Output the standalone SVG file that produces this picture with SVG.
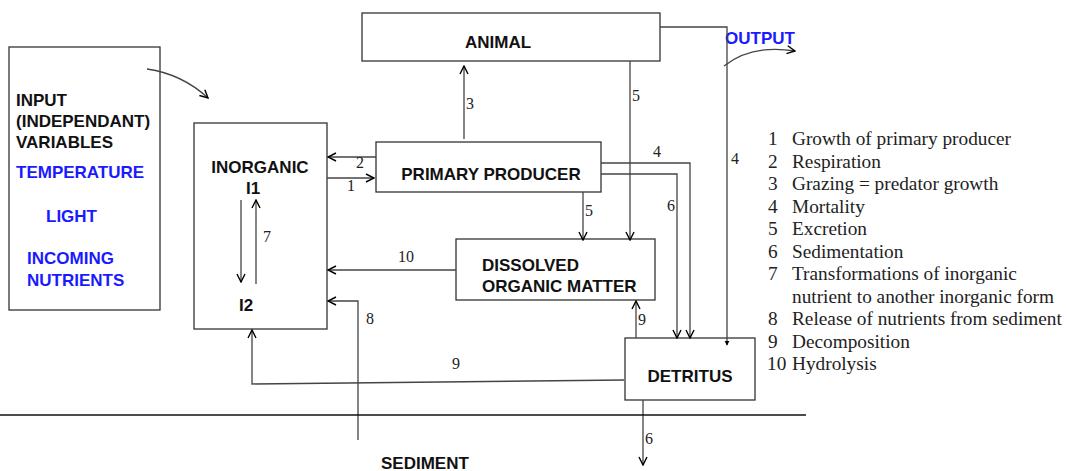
<svg xmlns="http://www.w3.org/2000/svg" width="1067" height="471" viewBox="0 0 1067 471">
<defs>
<marker id="ah" viewBox="0 0 10 10" refX="9" refY="5" markerWidth="10" markerHeight="10" markerUnits="userSpaceOnUse" orient="auto">
<path d="M1,1 L9,5 L1,9" fill="none" stroke="#000" stroke-width="1.4"/>
</marker>
<marker id="dot" viewBox="0 0 6 10" refX="5" refY="5" markerWidth="5" markerHeight="8" markerUnits="userSpaceOnUse" orient="auto">
<path d="M0,2 L6,5 L0,8 Z" fill="#000"/>
</marker>
</defs>
<style>
.box{fill:#fff;stroke:#333;stroke-width:1.3}
.ln{fill:none;stroke:#444;stroke-width:1.3}
.b{font-family:"Liberation Sans",Arial,sans-serif;font-weight:bold;font-size:17px;fill:#111}
.blue{fill:#1a1aff}
.n{font-family:"Liberation Serif","Times New Roman",serif;font-size:16px;fill:#222}
.lg{font-family:"Liberation Serif","Times New Roman",serif;font-size:19.3px;fill:#222}
</style>
<rect width="1067" height="471" fill="#fff"/>

<g id="input">
<rect class="box" x="9" y="47" width="151" height="263"/>
<text class="b" x="16" y="106">INPUT</text>
<text class="b" x="16" y="127">(INDEPENDANT)</text>
<text class="b" x="16" y="148">VARIABLES</text>
<text class="b blue" x="16" y="178">TEMPERATURE</text>
<text class="b blue" x="46" y="222">LIGHT</text>
<text class="b blue" x="27" y="264">INCOMING</text>
<text class="b blue" x="27" y="286">NUTRIENTS</text>
</g>

<g id="inorganic">
<rect class="box" x="194" y="123" width="133" height="206"/>
<text class="b" x="260" y="173" text-anchor="middle">INORGANIC</text>
<text class="b" x="253" y="194" text-anchor="middle">I1</text>
<text class="b" x="246" y="311" text-anchor="middle">I2</text>
</g>

<g id="animal">
<rect class="box" x="362" y="13" width="298" height="48"/>
<text class="b" x="498" y="48" text-anchor="middle">ANIMAL</text>
</g>

<g id="primary">
<rect class="box" x="376" y="142" width="225" height="50"/>
<text class="b" x="491" y="180" text-anchor="middle">PRIMARY PRODUCER</text>
</g>

<g id="dom">
<rect class="box" x="456" y="239" width="199" height="61"/>
<text class="b" x="482" y="271">DISSOLVED</text>
<text class="b" x="482" y="292">ORGANIC MATTER</text>
</g>

<g id="detritus">
<rect class="box" x="625" y="338" width="130" height="62"/>
<text class="b" x="690" y="382" text-anchor="middle">DETRITUS</text>
</g>

<g id="labels">
<text class="b blue" x="725" y="44">OUTPUT</text>
<text class="b" x="381" y="469">SEDIMENT</text>
</g>

<g id="connectors">
<path class="ln" d="M147,69 Q182,74 208,98" stroke="#000" marker-end="url(#ah)"/>
<path class="ln" d="M724,66 Q752,44 795,51" stroke="#000" marker-end="url(#ah)"/>
<path class="ln" d="M241,200 V282" marker-end="url(#ah)"/>
<path class="ln" d="M256,284 V200" marker-end="url(#ah)"/>
<path class="ln" d="M464,139 V66" marker-end="url(#ah)"/>
<path class="ln" d="M376,157 H328" marker-end="url(#ah)"/>
<path class="ln" d="M327,178 H374" marker-end="url(#ah)"/>
<path class="ln" d="M630,61 V240" marker-end="url(#ah)"/>
<path class="ln" d="M583,192 V240" marker-end="url(#ah)"/>
<path class="ln" d="M601,163 H690 V338" marker-end="url(#ah)"/>
<path class="ln" d="M601,174 H677 V338" marker-end="url(#ah)"/>
<path class="ln" d="M660,27 H727 V345" marker-end="url(#dot)"/>
<path class="ln" d="M456,270 H328" marker-end="url(#ah)"/>
<path class="ln" d="M358,440 V301 H328" marker-end="url(#ah)"/>
<path class="ln" d="M636,338 V301" marker-end="url(#ah)"/>
<path class="ln" d="M624,380 L252,384 V330" marker-end="url(#ah)"/>
<path class="ln" d="M643,400 V465" marker-end="url(#ah)"/>
<line x1="0" y1="415" x2="806" y2="415" stroke="#111" stroke-width="1.3"/>
<text class="n" x="263" y="242">7</text>
<text class="n" x="466" y="109">3</text>
<text class="n" x="356" y="168">2</text>
<text class="n" x="347" y="191">1</text>
<text class="n" x="632" y="101">5</text>
<text class="n" x="585" y="216">5</text>
<text class="n" x="653" y="157">4</text>
<text class="n" x="667" y="211">6</text>
<text class="n" x="731" y="164">4</text>
<text class="n" x="398" y="262">10</text>
<text class="n" x="366" y="324">8</text>
<text class="n" x="638" y="325">9</text>
<text class="n" x="452" y="369">9</text>
<text class="n" x="645" y="444">6</text>
</g>

<g id="legend">
<text class="lg" x="768" y="145">1</text><text class="lg" x="792" y="145">Growth of primary producer</text>
<text class="lg" x="768" y="168">2</text><text class="lg" x="792" y="168">Respiration</text>
<text class="lg" x="768" y="190">3</text><text class="lg" x="792" y="190">Grazing = predator growth</text>
<text class="lg" x="768" y="213">4</text><text class="lg" x="792" y="213">Mortality</text>
<text class="lg" x="768" y="235">5</text><text class="lg" x="792" y="235">Excretion</text>
<text class="lg" x="768" y="258">6</text><text class="lg" x="792" y="258">Sedimentation</text>
<text class="lg" x="768" y="280">7</text><text class="lg" x="792" y="280">Transformations of inorganic</text>
<text class="lg" x="792" y="303">nutrient to another inorganic form</text>
<text class="lg" x="768" y="325">8</text><text class="lg" x="792" y="325">Release of nutrients from sediment</text>
<text class="lg" x="768" y="348">9</text><text class="lg" x="792" y="348">Decomposition</text>
<text class="lg" x="767" y="370">10</text><text class="lg" x="792" y="370">Hydrolysis</text>
</g>
</svg>
